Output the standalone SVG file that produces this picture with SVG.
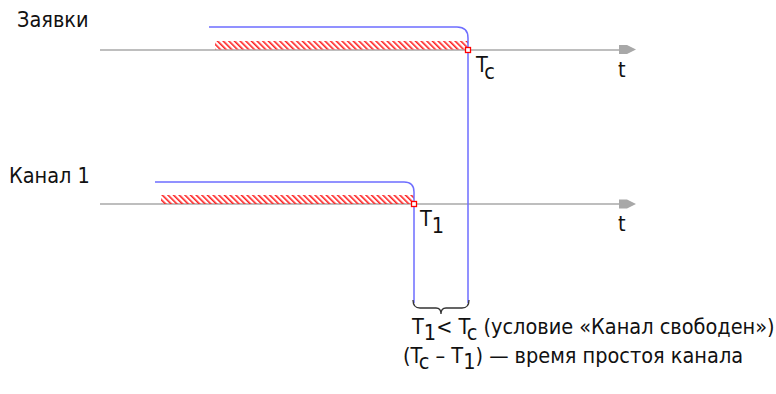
<svg xmlns="http://www.w3.org/2000/svg" width="776" height="394" viewBox="0 0 776 394">
<style>
text{font-family:"DejaVu Sans Condensed","DejaVu Sans",sans-serif;font-stretch:condensed;font-size:21.5px;fill:#111}
.axis{stroke:#a8a8a8;stroke-width:1.5;fill:none}
.head{fill:#a8a8a8}
.blue{stroke:#6e6eff;stroke-width:1.5;fill:none}
.mark{fill:#fff;stroke:#ff0000;stroke-width:1.3}
.brace{stroke:#333;stroke-width:1.3;fill:none}
</style>
<defs>
<pattern id="hatch" patternUnits="userSpaceOnUse" width="4" height="4" patternTransform="rotate(-45)">
<rect x="0" y="0" width="1.6" height="4" fill="#ff2020"/>
</pattern>
</defs>
<g id="axis-requests">
<line class="axis" x1="100" y1="50" x2="626" y2="50"/>
<path class="head" d="M619,45 L627,45 L636,49.5 L627,54 L619,54 Z"/>
<text x="618" y="77">t</text>
<text x="17" y="27">Заявки</text>
</g>
<g id="axis-channel">
<line class="axis" x1="100" y1="204" x2="626" y2="204"/>
<path class="head" d="M619,199.5 L627,199.5 L636,204 L627,208.5 L619,208.5 Z"/>
<text x="618" y="231">t</text>
<text x="9" y="183">Канал 1</text>
</g>
<g id="requests-bar">
<rect x="215" y="41" width="253" height="8.5" fill="url(#hatch)"/>
<path class="blue" d="M209,27 L457,27 Q468,27 468,38 L468,303"/>
<rect class="mark" x="465.5" y="47.5" width="5" height="5"/>
<text x="476" y="72">T<tspan dy="7">c</tspan></text>
</g>
<g id="channel-bar">
<rect x="161" y="195" width="253" height="9" fill="url(#hatch)"/>
<path class="blue" d="M155,182 L404,182 Q414,182 414,192 L414,303"/>
<rect class="mark" x="411.5" y="201.5" width="5" height="5"/>
<text x="420" y="226">T<tspan dy="7">1</tspan></text>
</g>
<g id="connectors">
<path class="brace" d="M413,300 Q413,308 420,308 L436,308 Q441,308 441,314 Q441,308 446,308 L462,308 Q469,308 469,300"/>
</g>
<g id="labels">
<text x="412" y="334">T<tspan dy="6">1</tspan><tspan dy="-6">&lt; T</tspan><tspan dy="6">c</tspan><tspan dy="-6"> (условие «Канал свободен»)</tspan></text>
<text x="403" y="363">(T<tspan dy="6">c</tspan><tspan dy="-6"> – T</tspan><tspan dy="6">1</tspan><tspan dy="-6">) — время простоя канала</tspan></text>
</g>
</svg>
